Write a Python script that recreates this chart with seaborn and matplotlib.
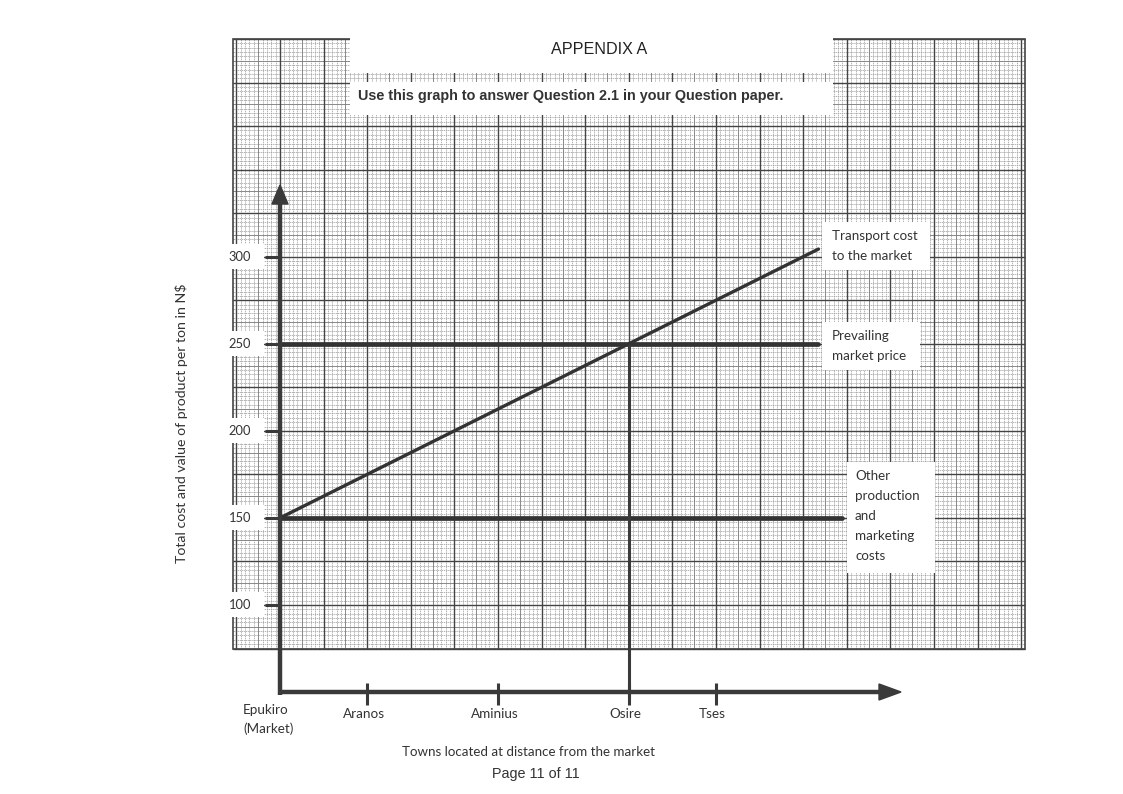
import numpy as np
import pandas as pd
import matplotlib
matplotlib.use("Agg")
import matplotlib.pyplot as plt
import seaborn as sns
from matplotlib.patches import Rectangle, Polygon

# ---------------- data ----------------
towns = ["Epukiro\n(Market)", "Aranos", "Aminius", "Osire", "Tses"]
town_dist = [0, 2, 5, 8, 10]
y_ticks = [100, 150, 200, 250, 300]

transport_x = [0, 12.35]
transport_y = [150, 304.4]
price_x = [0, 12.35]
price_y = [250, 250]
other_x = [0, 12.9]
other_y = [150, 150]
osire_x = [8, 8]
osire_y = [250, 47]

title = "APPENDIX A"
instruction = "Use this graph to answer Question 2.1 in your Question paper."
xlabel = "Towns located at distance from the market"
ylabel = "Total cost and value of product per ton in N$"
footer = "Page 11 of 11"
label_transport = "Transport cost\nto the market"
label_price = "Prevailing\nmarket price"
label_other = "Other\nproduction\nand\nmarketing\ncosts"

# ---------------- setup ----------------
sns.set_theme(style="white")
plt.rcParams['font.family'] = ['Lato', 'DejaVu Sans']

W, H = 1123, 794
X0PX, XUNIT = 280.0, 43.6          # pixel of x=0, pixels per x unit
Y100PX, YPERPX = 605.0, 1.7414     # pixel of y=100, pixels per y unit

def px2x(px):
    return (px - X0PX) / XUNIT

def py2y(py):
    return 100 + (Y100PX - py) / YPERPX

fig = plt.figure(figsize=(W / 100, H / 100), dpi=100)
ax = fig.add_axes([0, 0, 1, 1])

# ---------------- graph paper ----------------
gx0, gx1 = px2x(233), px2x(1025)
gy0, gy1 = 75, 425
minor_x = np.arange(-1.0, 17.05, 0.1)
minor_y = np.arange(75, 425.1, 2.5)
ax.vlines(minor_x, gy0, gy1, colors="#999999", lw=0.5, linestyles=(0, (2.0, 1.0)), zorder=1)
ax.hlines(minor_y, gx0, gx1, colors="#999999", lw=0.5, linestyles=(0, (2.0, 1.0)), zorder=1)
half_x = np.arange(-0.5, 17.05, 1.0)
half_y = np.arange(87.5, 425, 25)
ax.vlines(half_x, gy0, gy1, colors="#808080", lw=0.6, zorder=1)
ax.hlines(half_y, gx0, gx1, colors="#808080", lw=0.6, zorder=1)
major_x = np.arange(-1, 18, 1.0)
major_y = np.arange(75, 426, 25)
ax.vlines(major_x[major_x <= gx1], gy0, gy1, colors="#444444", lw=1.0, zorder=1)
ax.hlines(major_y, gx0, gx1, colors="#444444", lw=1.0, zorder=1)
ax.add_patch(Rectangle((gx0, gy0), gx1 - gx0, gy1 - gy0, fill=False, ec="#444444", lw=1.2, zorder=1))

def white_box(px_l, px_r, py_t, py_b, z=2):
    ax.add_patch(Rectangle((px2x(px_l), py2y(py_b)), px2x(px_r) - px2x(px_l),
                           py2y(py_t) - py2y(py_b), fc="white", ec="none", zorder=z))

# title area boxes
white_box(350, 833, 30, 73)
white_box(350, 833, 82, 115)
# label boxes
white_box(822, 930, 222, 270)
white_box(822, 920, 322, 370)
white_box(847, 935, 462, 573)
# tick-label boxes
for v in y_ticks:
    pyv = Y100PX - (v - 100) * YPERPX
    white_box(224, 264, pyv - 13, pyv + 12)

# ---------------- axes (drawn) ----------------
axis_col = "#3a3a3a"
ax.plot([0, 0], [py2y(695), py2y(203)], color=axis_col, lw=3.2, solid_capstyle="butt", zorder=5)
ax.plot([px2x(278), px2x(882)], [50, 50], color=axis_col, lw=3.2, solid_capstyle="butt", zorder=5)
# arrowheads
ax.add_patch(Polygon([(px2x(280), py2y(185)), (px2x(272), py2y(204)), (px2x(288), py2y(204))],
                     closed=True, fc=axis_col, ec=axis_col, zorder=6))
ax.add_patch(Polygon([(px2x(901), py2y(692)), (px2x(879), py2y(684)), (px2x(879), py2y(700))],
                     closed=True, fc=axis_col, ec=axis_col, zorder=6))

# y ticks and labels
for v in y_ticks:
    ax.plot([px2x(265), 0], [v, v], color=axis_col, lw=2.2, solid_capstyle="butt", zorder=5)
    ax.text(px2x(240), v, str(v), ha="center", va="center", fontsize=9.3, color="#333333", zorder=7)

# x ticks and labels
for name, d in zip(towns, town_dist):
    if d != 0:
        ax.plot([d, d], [py2y(683), py2y(705)], color=axis_col, lw=2.2, solid_capstyle="butt", zorder=5)
        ax.text(d - 0.08, py2y(714), name, ha="center", va="center", fontsize=9.7, color="#333333")
    else:
        ax.text(px2x(243), py2y(704), name, ha="left", va="top", fontsize=9.7,
                color="#333333", linespacing=1.65)

# ---------------- data lines ----------------
df = pd.concat([
    pd.DataFrame({"x": transport_x, "y": transport_y, "s": "transport"}),
    pd.DataFrame({"x": price_x, "y": price_y, "s": "price"}),
    pd.DataFrame({"x": other_x, "y": other_y, "s": "other"}),
])
sns.lineplot(data=df[df.s == "transport"], x="x", y="y", ax=ax, color="#333333", lw=2.4,
             legend=False, zorder=4, estimator=None, sort=False)
sns.lineplot(data=df[df.s == "price"], x="x", y="y", ax=ax, color="#333333", lw=3.4,
             legend=False, zorder=4, estimator=None, sort=False)
sns.lineplot(data=df[df.s == "other"], x="x", y="y", ax=ax, color="#333333", lw=3.4,
             legend=False, zorder=4, estimator=None, sort=False)
ax.plot(osire_x, osire_y, color="#3a3a3a", lw=2.2, solid_capstyle="butt", zorder=4)
ax.set_xlim(px2x(0), px2x(W))
ax.set_ylim(py2y(H), py2y(0))
ax.axis("off")

# ---------------- text ----------------
ax.text(px2x(599), py2y(50), title, ha="center", va="center", fontsize=11.6,
        family=["Liberation Sans", "DejaVu Sans"], color="#222222", zorder=8)
ax.text(px2x(358), py2y(96), instruction, ha="left", va="center", fontsize=10.4,
        fontweight="bold", family=["Liberation Sans", "DejaVu Sans"], color="#333333", zorder=8)
ax.text(px2x(832), py2y(246), label_transport, ha="left", va="center", fontsize=9.6,
        color="#333333", linespacing=1.8, zorder=8)
ax.text(px2x(832), py2y(346), label_price, ha="left", va="center", fontsize=9.6,
        color="#333333", linespacing=1.8, zorder=8)
ax.text(px2x(855), py2y(516), label_other, ha="left", va="center", fontsize=9.6,
        color="#333333", linespacing=1.8, zorder=8)
ax.text(px2x(528), py2y(752), xlabel, ha="center", va="center", fontsize=9.6, color="#333333")
ax.text(px2x(536), py2y(774), footer, ha="center", va="center", fontsize=10.4,
        family=["Liberation Sans", "DejaVu Sans"], color="#333333")
ax.text(px2x(182), py2y(423), ylabel, ha="center", va="center", rotation=90, fontsize=10.2,
        color="#333333")

fig.savefig("out.png", dpi=100, facecolor="white")
